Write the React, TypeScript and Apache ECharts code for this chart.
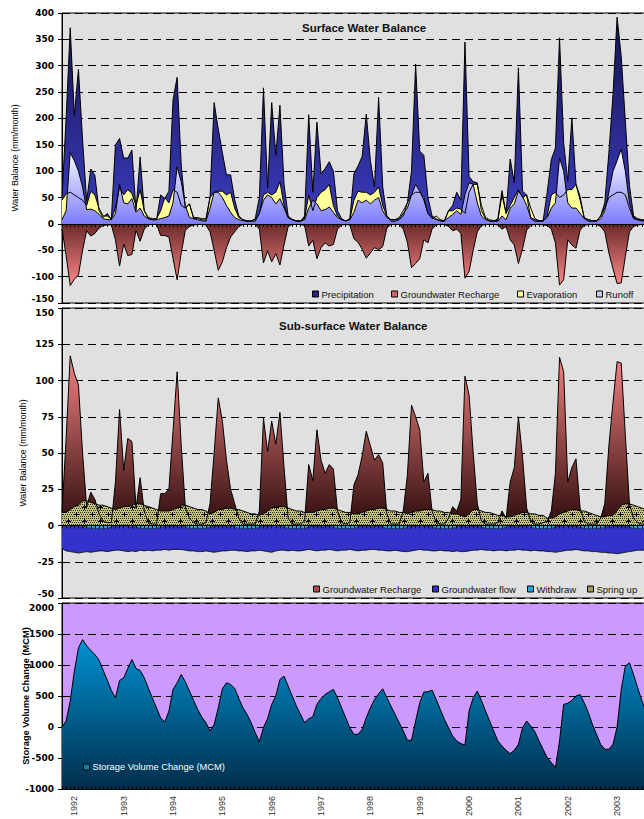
import React, { useEffect, useRef } from "react";
import * as echarts from "echarts";

// ---------- categories (monthly, Oct 1991 .. Sep 2003) ----------
const START_YEAR = 1991;
const START_MONTH = 10;
const MONTH_COUNT = 144;
const months: string[] = Array.from({ length: MONTH_COUNT }, (_, k) => {
  const t = START_MONTH - 1 + k;
  return `${START_YEAR + Math.floor(t / 12)}-${String((t % 12) + 1).padStart(2, "0")}`;
});
const yearTickLabels = ["1992", "1993", "1994", "1995", "1996", "1997", "1998", "1999", "2000", "2001", "2002", "2003"];

// ---------- Surface water balance (mm/month) ----------
const precipitation = [
  50, 200, 372, 206, 293, 160, 43, 104, 92, 25, 12, 20,
  8, 150, 162, 125, 125, 140, 25, 127, 25, 10, 8, 8,
  55, 48, 62, 235, 278, 110, 30, 38, 10, 10, 8, 7,
  50, 230, 180, 135, 93, 93, 46, 15, 8, 5, 5, 10,
  50, 258, 68, 230, 130, 225, 75, 15, 8, 5, 5, 15,
  207, 60, 193, 95, 105, 118, 100, 25, 10, 5, 10, 95,
  110, 128, 208, 120, 70, 240, 70, 15, 5, 5, 8, 15,
  40, 100, 303, 138, 130, 50, 15, 10, 5, 5, 25, 35,
  60, 45, 345, 90, 80, 78, 25, 10, 5, 5, 10, 63,
  20, 123, 78, 296, 62, 55, 10, 5, 5, 5, 60, 122,
  144, 353, 154, 81, 201, 75, 52, 11, 5, 5, 5, 15,
  40, 135, 245, 392, 318, 195, 73, 15, 10, 8, 8, 8,
];
const runoff = [
  8, 25, 135, 120, 100, 70, 27, 28, 25, 18, 10, 8,
  8, 20, 75, 40, 38, 48, 22, 30, 15, 10, 8, 8,
  10, 12, 15, 40, 108, 80, 35, 12, 10, 8, 6, 5,
  30, 60, 60, 50, 35, 22, 12, 8, 6, 5, 5, 5,
  20, 45, 55, 50, 38, 48, 30, 12, 8, 6, 5, 8,
  30, 45, 38, 25, 27, 32, 22, 12, 8, 6, 8, 22,
  45, 40, 45, 38, 45, 50, 25, 12, 8, 8, 10, 20,
  30, 55, 75, 62, 45, 20, 12, 8, 7, 6, 12, 18,
  25, 18, 55, 78, 75, 40, 15, 8, 6, 5, 5, 15,
  8, 30, 38, 62, 52, 35, 12, 8, 6, 6, 12, 30,
  40, 125, 100, 40, 30, 30, 20, 10, 8, 6, 6, 10,
  25, 60, 100, 120, 142, 100, 40, 12, 8, 6, 6, 6,
];
const evaporation = [
  45, 57, 60, 55, 50, 45, 35, 62, 55, 30, 15, 15,
  10, 30, 70, 55, 65, 58, 35, 65, 25, 12, 10, 10,
  25, 50, 40, 65, 60, 35, 30, 38, 12, 12, 10, 10,
  50, 60, 62, 62, 55, 60, 30, 12, 8, 6, 6, 8,
  20, 55, 60, 55, 60, 80, 35, 12, 8, 6, 6, 10,
  55, 25, 50, 60, 65, 75, 35, 15, 8, 6, 8, 45,
  62, 60, 60, 55, 60, 70, 35, 15, 8, 8, 12, 25,
  40, 55, 60, 60, 50, 20, 10, 15, 8, 6, 25, 25,
  30, 28, 20, 60, 75, 75, 35, 12, 8, 6, 6, 55,
  20, 35, 50, 65, 50, 55, 30, 10, 6, 6, 15, 55,
  60, 50, 55, 65, 65, 75, 45, 12, 8, 6, 6, 15,
  30, 50, 55, 60, 60, 55, 30, 10, 8, 6, 6, 6,
];
// Groundwater recharge (drawn positive in the sub-surface panel, as a loss in the surface panel)
const groundwaterRecharge = [
  9, 60, 117, 105, 97, 50, 13, 23, 18, 8, 3, 2,
  2, 30, 80, 38, 60, 58, 12, 33, 10, 2, 1, 1,
  22, 22, 25, 65, 106, 55, 12, 5, 2, 1, 1, 2,
  15, 50, 88, 72, 45, 25, 15, 5, 1, 1, 1, 1,
  10, 74, 51, 72, 56, 78, 40, 5, 1, 1, 1, 3,
  42, 31, 66, 45, 36, 42, 39, 10, 2, 1, 2, 28,
  35, 48, 65, 55, 45, 49, 43, 8, 1, 1, 1, 10,
  35, 83, 75, 66, 30, 36, 10, 2, 1, 1, 5, 13,
  10, 18, 103, 90, 50, 15, 3, 1, 1, 1, 2, 10,
  5, 30, 40, 75, 47, 12, 3, 1, 1, 2, 3, 10,
  36, 116, 106, 30, 40, 46, 12, 3, 1, 1, 1, 5,
  15, 55, 85, 113, 112, 62, 15, 5, 2, 1, 1, 1,
];

// ---------- Sub-surface water balance (mm/month) ----------
const groundwaterFlow = [
  -16, -17.5, -18, -18.5, -19, -18.5, -18, -18.5, -18, -17.5, -17.5, -18,
  -17.5, -17, -17, -17.5, -18, -17.5, -18, -17, -17.5, -17, -17.5, -17,
  -17, -16.5, -17, -16.5, -16.5, -16.5, -17, -17.5, -17.5, -18, -18, -17.5,
  -18, -18.5, -18, -17.5, -17.5, -17, -17, -17.5, -17.5, -18, -17.5, -17.5,
  -17, -17.5, -18, -18.5, -17.5, -17, -17, -17.5, -17, -17.5, -17.5, -17,
  -16.5, -17, -17.5, -17, -17, -16.5, -17, -17.5, -17, -17, -16.5, -17,
  -17.5, -17, -17, -16.5, -16.5, -17, -17, -17.5, -17.5, -17, -17.5, -18,
  -18, -17.5, -17, -16.5, -17, -17, -17.5, -17.5, -17, -17.5, -17.5, -18,
  -17.5, -18, -18, -17.5, -17, -17, -16.5, -17, -17, -17.5, -17, -17,
  -17.5, -17, -17, -16.5, -17, -17, -17.5, -17, -17.5, -17.5, -18, -18,
  -18.5, -18, -17.5, -17, -17, -16.5, -17, -17.5, -17.5, -18, -18, -18.5,
  -18.5, -19, -19, -19.5, -19, -18.5, -18, -17.5, -17, -17, -17, -17,
];
const withdraw = [
  0, 0, 0, 0, 0, 0, -1, -2, -2, -2, -2, -2,
  -1, 0, 0, 0, 0, 0, -1, -2, -2, -2, -2, -2,
  -1, 0, 0, 0, 0, 0, -1, -2, -2, -2, -2, -2,
  -1, 0, 0, 0, 0, 0, -1, -2, -2, -2, -2, -2,
  -1, 0, 0, 0, 0, 0, -1, -2, -2, -2, -2, -2,
  -1, 0, 0, 0, 0, 0, -1, -2, -2, -2, -2, -2,
  -1, 0, 0, 0, 0, 0, -1, -2, -2, -2, -2, -2,
  -1, 0, 0, 0, 0, 0, -1, -2, -2, -2, -2, -2,
  -1, 0, 0, 0, 0, 0, -1, -2, -2, -2, -2, -2,
  -1, 0, 0, 0, 0, 0, -1, -2, -2, -2, -2, -2,
  -1, 0, 0, 0, 0, 0, -1, -2, -2, -2, -2, -2,
  -1, 0, 0, 0, 0, 0, -1, -2, -2, -2, -2, -2,
];
const springUp = [
  9, 9, 11, 13, 14, 17, 17, 16, 15, 14, 14, 13,
  12, 11, 12, 13, 13, 14, 15, 15, 14, 13, 12, 11,
  10, 10, 10, 11, 12, 14, 14, 13, 12, 11, 11, 10,
  8, 9, 11, 11, 12, 12, 11, 11, 10, 9, 8, 8,
  7, 8, 10, 12, 13, 13, 13, 12, 11, 10, 10, 9,
  9, 9, 10, 11, 11, 12, 12, 11, 10, 9, 9, 8,
  8, 9, 10, 11, 11, 12, 12, 11, 10, 10, 9, 9,
  8, 9, 10, 10, 11, 11, 11, 10, 10, 9, 9, 8,
  8, 7, 6, 8, 11, 11, 10, 9, 9, 8, 7, 7,
  6, 6, 7, 8, 9, 9, 8, 8, 7, 7, 5, 5,
  6, 8, 9, 10, 11, 11, 10, 10, 9, 8, 7, 6,
  6, 7, 7, 10, 14, 15, 15, 14, 13, 12, 11, 11,
];

// ---------- Storage volume change (MCM) ----------
const storageChange = [
  0, 97, 418, 900, 1276, 1410, 1310, 1233, 1169, 1078, 917, 756,
  590, 472, 750, 794, 944, 1088, 944, 911, 794, 627, 466, 306,
  145, 80, 257, 606, 713, 847, 729, 579, 429, 284, 160, 70,
  -64, 40, 311, 617, 713, 686, 622, 461, 311, 204, 70, -91,
  -236, -11, 140, 365, 499, 767, 820, 660, 499, 338, 204, 70,
  134, 166, 365, 461, 525, 568, 606, 472, 311, 150, -11, -118,
  -118, -38, 150, 311, 445, 536, 617, 472, 338, 204, 70, -64,
  -214, -214, 97, 391, 563, 568, 595, 445, 284, 123, -11, -145,
  -225, -268, -290, 257, 472, 579, 429, 257, 97, -64, -225, -306,
  -375, -429, -375, -279, -11, 97, 16, -75, -225, -359, -493, -574,
  -654, -225, 365, 381, 429, 499, 525, 391, 231, 43, -118, -279,
  -359, -359, -279, 0, 600, 981, 1035, 847, 633, 429, 250, 100,
];

const FONT = "'Liberation Sans', Arial, sans-serif";
const TICK_FONT = "'DejaVu Sans', sans-serif";

function makeSpringPattern(): string {
  const c = document.createElement("canvas");
  c.width = 16;
  c.height = 14;
  const ctx = c.getContext("2d");
  if (!ctx) return "";
  ctx.fillStyle = "#c4c47c";
  ctx.fillRect(0, 0, 16, 14);
  ctx.fillStyle = "#2e2e0c";
  for (let y = 0; y < 14; y += 2) {
    for (let x = 0; x < 16; x += 2) {
      ctx.fillRect(x + ((y / 2) % 2), y, 1, 1);
    }
  }
  ctx.fillStyle = "#000";
  const plus = (cx: number, cy: number) => {
    ctx.fillRect(cx - 2, cy, 5, 1);
    ctx.fillRect(cx, cy - 2, 1, 5);
  };
  plus(4, 3);
  plus(12, 10);
  return c.toDataURL();
}

function grad(stops: [number, string][]) {
  return new echarts.graphic.LinearGradient(
    0, 0, 0, 1,
    stops.map(([offset, color]) => ({ offset, color }))
  );
}

function legendItem(name: string, left: number, top: number, color: string, textColor = "#111", fontSize = 9.5) {
  return {
    left,
    top,
    padding: 0,
    itemGap: 0,
    icon: "rect",
    itemWidth: 6,
    itemHeight: 6,
    selectedMode: false,
    textStyle: { color: textColor, fontSize, fontFamily: FONT, lineHeight: 10, padding: [0, 0, 0, -2] },
    data: [{ name, itemStyle: { color, borderColor: "#000", borderWidth: 1 } }],
  };
}

const tickText = { color: "#000", fontFamily: TICK_FONT, fontWeight: "bold", fontSize: 9 };

export default function App() {
  const ref = useRef<HTMLDivElement>(null);

  useEffect(() => {
    if (!ref.current) return;
    const chart = echarts.init(ref.current, undefined, { renderer: "svg" });
    const springPattern = makeSpringPattern();

    const xAxisBase = (gridIndex: number) => ({
      type: "category",
      gridIndex,
      data: months,
      boundaryGap: false,
      z: 10,
      axisLine: { show: true, onZero: gridIndex !== 2, lineStyle: { color: "#000", width: 1 } },
      axisTick: { show: true, interval: 0, length: 3, inside: gridIndex === 2, lineStyle: { color: "#000", width: 1 } },
      axisLabel: gridIndex === 2
        ? {
            show: true,
            rotate: 90,
            margin: 7,
            fontSize: 9,
            fontFamily: FONT,
            color: "#333",
            padding: [0, 0, 6, 0],
            interval: (_i: number, v: string) => v.endsWith("-01") && yearTickLabels.includes(v.slice(0, 4)),
            formatter: (v: string) => v.slice(0, 4),
          }
        : { show: false },
      splitLine: { show: false },
    });

    const yAxisBase = (
      gridIndex: number, min: number, max: number, interval: number,
      name: string, nameGap: number, nameStyle: any, raiseMin: boolean, lowerMax: boolean
    ) => ({
      type: "value",
      gridIndex,
      min,
      max,
      interval,
      name,
      nameLocation: "middle",
      nameGap,
      nameMoveOverlap: false,
      nameTextStyle: nameStyle,
      axisLine: { show: true, lineStyle: { color: "#000", width: 1 } },
      axisTick: { show: true, length: 4, lineStyle: { color: "#000" } },
      axisLabel: {
        ...tickText,
        margin: 8,
        formatter: (v: number) => {
          if (raiseMin && v === min) return `{lo|${v}}`;
          if (lowerMax && v === max) return `{hi|${v}}`;
          return String(v);
        },
        rich: {
          lo: { ...tickText, padding: [0, 0, 9, 0] },
          hi: { ...tickText, padding: [9, 0, 0, 0] },
        },
      },
      splitLine: { show: true, lineStyle: { color: "#000", type: [8, 5], width: 1 } },
    });

    const area = (name: string, data: number[], xi: number, fill: any, extra: any = {}) => ({
      name,
      type: "line",
      xAxisIndex: xi,
      yAxisIndex: xi,
      data,
      symbol: "none",
      showSymbol: false,
      smooth: false,
      lineStyle: { color: "#000", width: 1 },
      areaStyle: { color: fill, opacity: 1 },
      emphasis: { disabled: true },
      ...extra,
    });

    const storageFill = grad([[0, "#0090d2"], [0.5, "#00608f"], [1, "#002e4c"]]);

    const option: any = {
      animation: false,
      backgroundColor: "#ffffff",
      grid: [
        { left: 62, right: 10, top: 13, height: 290, show: true, backgroundColor: "#e0e0e0", borderColor: "#000", borderWidth: 1 },
        { left: 62, right: 10, top: 308, height: 290, show: true, backgroundColor: "#e0e0e0", borderColor: "#000", borderWidth: 1 },
        { left: 62, right: 10, top: 603, height: 187, show: true, backgroundColor: "#cc99ff", borderColor: "#000", borderWidth: 1 },
      ],
      title: [
        { text: "Surface Water Balance", left: 302, top: 22, padding: 0, textStyle: { fontSize: 11.5, fontWeight: "bold", fontFamily: FONT, color: "#111" } },
        { text: "Sub-surface Water Balance", left: 279, top: 320, padding: 0, textStyle: { fontSize: 11.5, fontWeight: "bold", fontFamily: FONT, color: "#111" } },
      ],
      legend: [
        legendItem("Precipitation", 312, 289, "#23237e"),
        legendItem("Groundwater Recharge", 391, 289, "#d06a6a"),
        legendItem("Evaporation", 517, 289, "#ffff99"),
        legendItem("Runoff", 596, 289, "#c8c8ff"),
        legendItem("Groundwater Recharge ", 313, 584, "#b04a4a"),
        legendItem("Groundwater flow", 432, 584, "#3333cc"),
        legendItem("Withdraw", 527, 584, "#2aa6d8"),
        legendItem("Spring up", 587, 584, "#9c9c58"),
        legendItem("Storage Volume Change (MCM)", 83, 762, "#0080b8", "#ffffff", 9.3),
      ],
      xAxis: [xAxisBase(0), xAxisBase(1), xAxisBase(2)],
      yAxis: [
        yAxisBase(0, -150, 400, 50, "Water Balance (mm/month)", 43, { fontSize: 8.8, fontFamily: FONT, color: "#000" }, true, false),
        yAxisBase(1, -50, 150, 25, "Water Balance (mm/month)", 35, { fontSize: 8.8, fontFamily: FONT, color: "#000" }, true, true),
        yAxisBase(2, -1000, 2000, 500, "Storage Volume Change (MCM)", 32, { fontSize: 9.3, fontWeight: "bold", fontFamily: FONT, color: "#000" }, false, true),
      ],
      series: [
        area("Precipitation", precipitation, 0, grad([[0, "#141450"], [1, "#3c3cc0"]])),
        area("Groundwater Recharge", groundwaterRecharge.map((v) => -v), 0, grad([[0, "#6b2a2a"], [1, "#ff8888"]])),
        area("Evaporation", evaporation, 0, "#ffff99"),
        area("Runoff", runoff, 0, grad([[0, "#ffffff"], [1, "#7c7cff"]])),

        area("Groundwater Recharge ", groundwaterRecharge, 1, grad([[0, "#f58282"], [1, "#2e0c0c"]])),
        area("Groundwater flow", groundwaterFlow, 1, "#3333cc", { lineStyle: { color: "#000", width: 0.8 } }),
        area("Withdraw", withdraw, 1, "#2aa6d8", { lineStyle: { color: "#113344", width: 1, type: [2, 1] } }),
        area("Spring up", springUp, 1, { image: springPattern, repeat: "repeat", imageWidth: 16, imageHeight: 14 }),

        area("Storage Volume Change (MCM)", storageChange, 2, storageFill, {
          areaStyle: { origin: "start", opacity: 1, color: storageFill },
        }),
      ],
    };

    chart.setOption(option);
    return () => chart.dispose();
  }, []);

  return (
    <div style={{ position: "fixed", left: 0, top: 0, width: 644, height: 819, overflow: "hidden", background: "#fff" }}>
      <div ref={ref} style={{ width: 660, height: 819 }} />
    </div>
  );
}
